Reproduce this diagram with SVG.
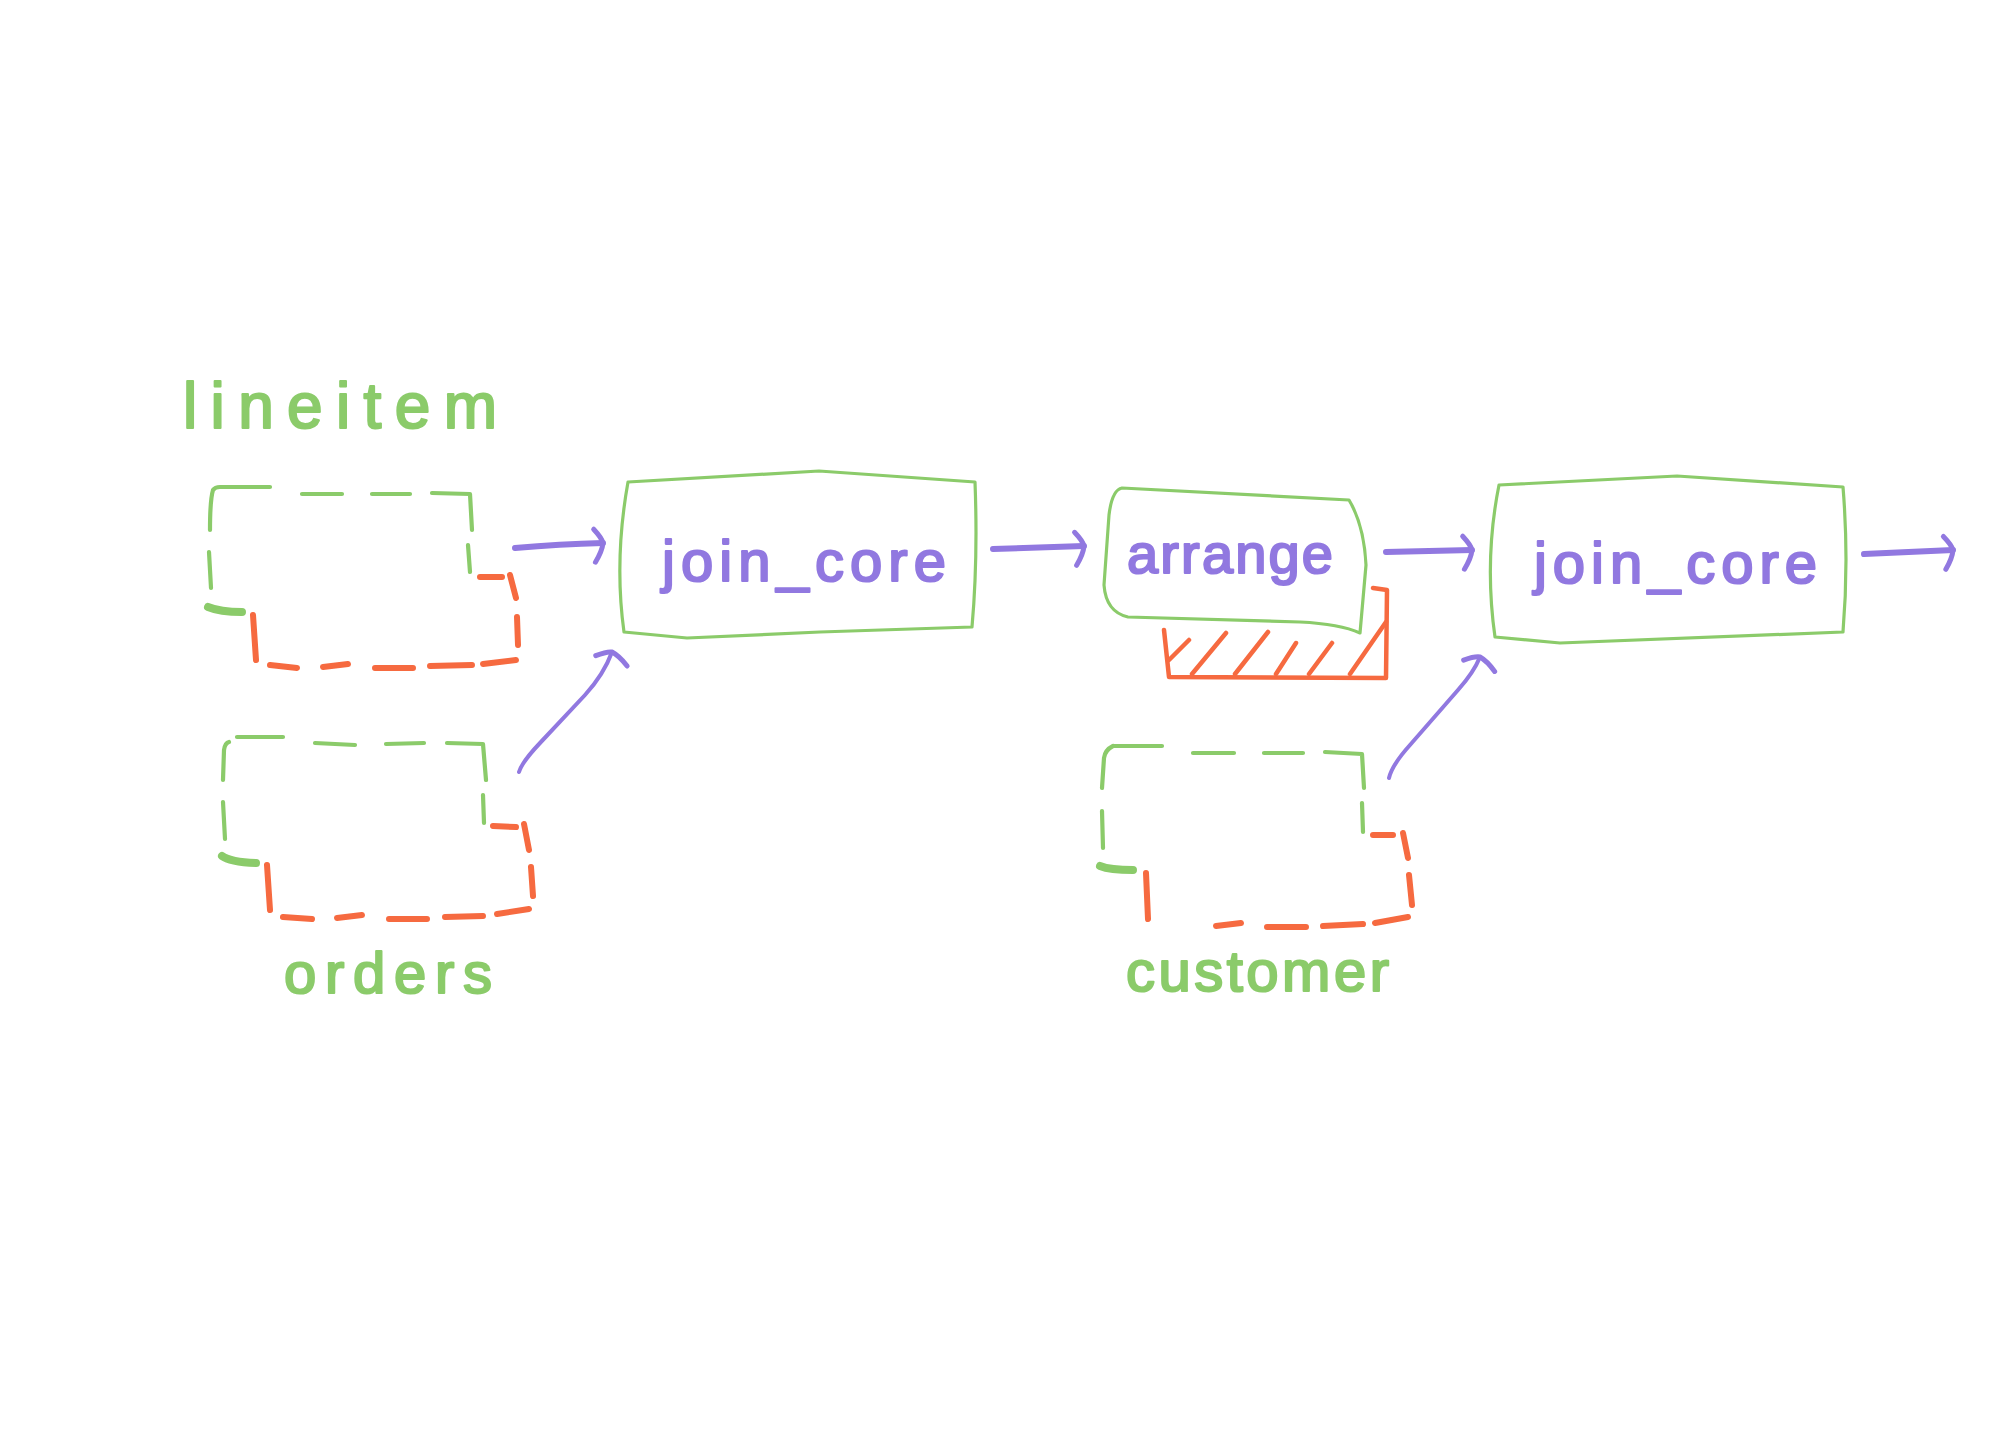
<svg xmlns="http://www.w3.org/2000/svg" width="1992" height="1437" viewBox="0 0 1992 1437">
<defs>
<style>
.box{fill:none;stroke:#8BCB6A;stroke-width:3.2;stroke-linejoin:round;stroke-linecap:round}
.dg{fill:none;stroke:#8BCB6A;stroke-width:4.2;stroke-linecap:round;stroke-linejoin:round}
.dgt{fill:none;stroke:#8BCB6A;stroke-width:8;stroke-linecap:round}
.do{fill:none;stroke:#F66A40;stroke-width:6;stroke-linecap:round}
.hatch{fill:none;stroke:#F66A40;stroke-width:4.5;stroke-linecap:round;stroke-linejoin:round}
.arr{fill:none;stroke:#9178E0;stroke-width:6;stroke-linecap:round;marker-end:url(#head)}
.arr-thin{fill:none;stroke:#9178E0;stroke-width:4;stroke-linecap:round;marker-end:url(#head)}
.tg{font-family:"Liberation Sans",Arial,sans-serif;fill:#8BCB6A;stroke:#8BCB6A;stroke-width:2.2;stroke-linejoin:round}
.tp{font-family:"Liberation Sans",Arial,sans-serif;fill:#9178E0;stroke:#9178E0;stroke-width:2.2;stroke-linejoin:round}
</style>
<marker id="head" markerUnits="userSpaceOnUse" orient="auto" overflow="visible" markerWidth="30" markerHeight="40" refX="0" refY="0">
<path d="M-9,-14 Q-1,-5 0,0 Q-1,8 -8,19" fill="none" stroke="#9178E0" stroke-width="5" stroke-linecap="round" stroke-linejoin="round"/>
</marker>
</defs>
<rect width="1992" height="1437" fill="#ffffff"/>

<g id="lineitem">
<path class="dg" d="M210,530 Q210,500 213,490 Q215,487 220,487 M220,487 L270,487 M302,494 L342,494 M372,494 L410,494 M432,493 L470,494 L472,530 M468,545 L470,572 M209,552 L211,588"/>
<path class="dgt" d="M208,607 Q220,612 242,612"/>
<path class="do" d="M480,577 L502,577 M510,575 L516,598 M517,617 L518,645 M516,660 L483,664 M472,665 L430,666 M413,668 L375,668 M348,664 L323,667 M297,668 L270,665 M253,615 L256,660"/>
<text class="tg" x="183" y="428" font-size="64" textLength="314" lengthAdjust="spacing">lineitem</text>
</g>

<g id="orders">
<path class="dg" d="M223,780 L224,750 Q225,743 229,742 M237,737 L283,737 M315,743 L355,745 M386,744 L424,743 M447,743 L483,744 L486,780 M483,795 L484,823 M223,802 L225,839"/>
<path class="dgt" d="M222,856 Q230,862 256,863"/>
<path class="do" d="M493,826 L516,827 M524,824 L529,850 M531,867 L533,896 M529,909 L497,914 M483,916 L445,917 M427,919 L389,919 M362,915 L337,918 M312,919 L283,917 M267,865 L270,910"/>
<text class="tg" x="284" y="993" font-size="58" textLength="208" lengthAdjust="spacing">orders</text>
</g>

<g id="join_core_1">
<path class="box" d="M628,482 L819,471 L975,482 Q978,560 972,627 L820,632 L687,638 L624,632 Q614,560 628,482 Z"/>
<text class="tp" x="662" y="581" font-size="58" textLength="284" lengthAdjust="spacing">join_core</text>
</g>

<g id="arrange">
<path class="box" d="M1122,488 L1349,500 Q1364,525 1366,565 L1360,633 Q1340,624 1300,622 L1128,617 Q1106,612 1104,585 L1109,515 Q1112,490 1122,488 Z"/>
<text class="tp" x="1127" y="573" font-size="56" textLength="206" lengthAdjust="spacing">arrange</text>
<path class="hatch" d="M1164,630 L1169,677 L1386,678 L1387,590 L1373,588"/>
<path class="hatch" d="M1169,660 L1189,640 M1192,674 L1226,633 M1235,674 L1268,632 M1276,674 L1296,643 M1309,674 L1332,643 M1350,674 L1386,622"/>
</g>

<g id="customer">
<path class="dg" d="M1102,788 L1104,758 Q1105,750 1113,746 M1113,746 L1162,746 M1193,753 L1234,753 M1264,753 L1303,753 M1325,752 L1362,754 L1364,788 M1362,803 L1363,832 M1102,811 L1103,848"/>
<path class="dgt" d="M1100,866 Q1110,870 1133,870"/>
<path class="do" d="M1373,835 L1393,835 M1403,833 L1408,858 M1409,875 L1412,905 M1408,917 L1375,923 M1363,924 L1323,926 M1306,927 L1267,927 M1241,923 L1216,926 M1146,873 L1148,919"/>
<text class="tg" x="1126" y="991" font-size="58" textLength="263" lengthAdjust="spacing">customer</text>
</g>

<g id="join_core_2">
<path class="box" d="M1499,485 L1677,476 L1843,487 Q1849,560 1843,632 L1560,643 L1495,637 Q1484,560 1499,485 Z"/>
<text class="tp" x="1534" y="583" font-size="58" textLength="283" lengthAdjust="spacing">join_core</text>
</g>

<g id="connectors">
<path class="arr" d="M515,548 Q560,544 603,543"/>
<path class="arr-thin" d="M519,772 Q522,762 540,743 L585,695 Q604,674 612,652"/>
<path class="arr" d="M993,549 L1084,546"/>
<path class="arr" d="M1386,552 L1472,550"/>
<path class="arr-thin" d="M1389,778 Q1392,765 1410,745 L1458,690 Q1474,672 1480,657"/>
<path class="arr" d="M1864,554 L1953,550"/>
</g>
</svg>
